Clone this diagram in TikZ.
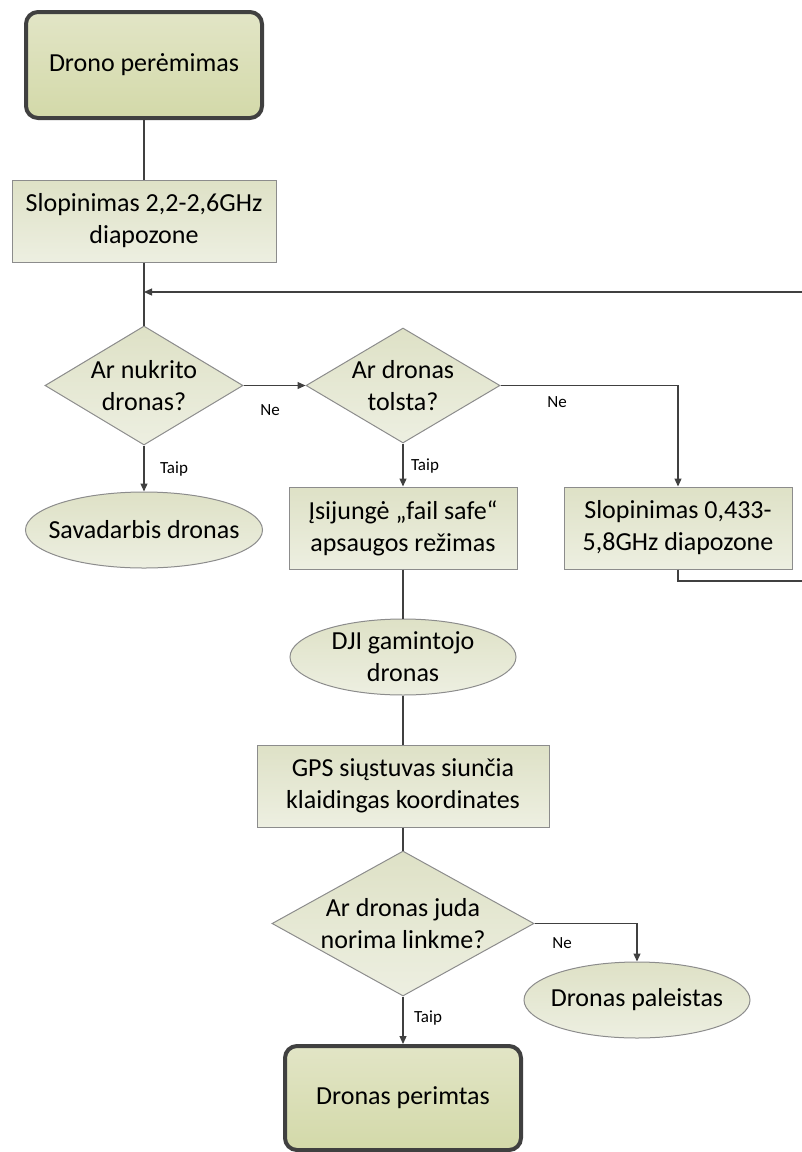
\documentclass[tikz,border=0pt]{standalone}
\usepackage{fontspec}
\setmainfont{Carlito}
\usetikzlibrary{shapes.geometric,arrows.meta,positioning}
\definecolor{termtop}{HTML}{E2E5C6}
\definecolor{termbot}{HTML}{D3D9A9}
\definecolor{proctop}{HTML}{DEE1C6}
\definecolor{procbot}{HTML}{EDEFE1}
\definecolor{boxline}{HTML}{8C8C8C}
\definecolor{termline}{HTML}{404040}
\definecolor{lineclr}{HTML}{404040}

\begin{document}
\begin{tikzpicture}[x=0.5pt,y=-0.5pt,
	font=\fontsize{13}{16}\selectfont,
	term/.style={rectangle, rounded corners=6pt, draw=termline, line width=2pt, top color=termtop, bottom color=termbot, minimum width=118pt, inner sep=0pt, align=center},
	proc/.style={rectangle, draw=boxline, line width=0.5pt, top color=proctop, bottom color=procbot, minimum height=41pt, inner sep=0pt, align=center},
	dec/.style={diamond, draw=boxline, line width=0.5pt, top color=proctop, bottom color=procbot, inner sep=0pt},
	endp/.style={ellipse, draw=boxline, line width=0.5pt, top color=proctop, bottom color=procbot, minimum height=38pt, inner sep=0pt},
	conn/.style={draw=lineclr, line width=0.6pt},
	arr/.style={conn, -{Triangle[length=4pt,width=3.5pt]}},
	lbl/.style={font=\fontsize{8.5}{10}\selectfont}
	]
	\useasboundingbox (0,0) rectangle (802,1152);
	\clip (0,0) rectangle (802,1152);
	\node[term, minimum height=53pt] (start) at (144,65) {Drono perėmimas};
	\node[proc, minimum width=132pt] (s1) at (144,221) {Slopinimas 2,2-2,6GHz\\diapozone};
	\node[dec, minimum width=99pt, minimum height=59.5pt, label={[align=center]center:Ar nukrito\\dronas?}] (q1) at (144,385.5) {};
	\node[dec, minimum width=97pt, minimum height=57.5pt, label={[align=center]center:Ar dronas\\tolsta?}] (q2) at (403,385.5) {};
	\node[endp, minimum width=118.5pt, label=center:Savadarbis dronas] (e1) at (144,530) {};
	\node[proc, minimum width=114pt] (s2) at (403,528) {Įsijungė „fail safe“\\apsaugos režimas};
	\node[proc, minimum width=114pt] (s3) at (678,528) {Slopinimas 0,433-\\5,8GHz diapozone};
	\node[endp, minimum width=113pt, label={[align=center]center:DJI gamintojo\\dronas}] (e2) at (403,657) {};
	\node[proc, minimum width=146pt] (s4) at (403,786) {GPS siųstuvas siunčia\\klaidingas koordinates};
	\node[dec, minimum width=131pt, minimum height=72.5pt, label={[align=center]center:Ar dronas juda\\norima linkme?}] (q3) at (403,923.5) {};
	\node[endp, minimum width=113pt, label=center:Dronas paleistas] (e3) at (637,1000) {};
	\node[term, minimum height=52pt] (stop) at (403,1098) {Dronas perimtas};
	\coordinate (back) at (144,292);
	\draw[conn] (start) -- (s1);
	\draw[conn] (s1) -- (q1);
	\draw[arr] (q1.east) -- (q2.west) node[lbl] at (270,410) {Ne};
	\draw[arr] (q1.south) -- (e1.north) node[lbl] at (174,469) {Taip};
	\draw[arr] (q2.south) -- (s2.north) node[lbl] at (425,466) {Taip};
	\draw[arr] (q2.east) -| (s3.north) node[lbl] at (557,402) {Ne};
	\draw[arr] (s3.south) |- (812,581) |- (back);
	\draw[conn] (s2) -- (e2);
	\draw[conn] (e2) -- (s4);
	\draw[conn] (s4) -- (q3);
	\draw[arr] (q3.east) -| (e3.north) node[lbl] at (562,943) {Ne};
	\draw[arr] (q3.south) -- (stop.north) node[lbl] at (428,1018) {Taip};
\end{tikzpicture}
\end{document}
